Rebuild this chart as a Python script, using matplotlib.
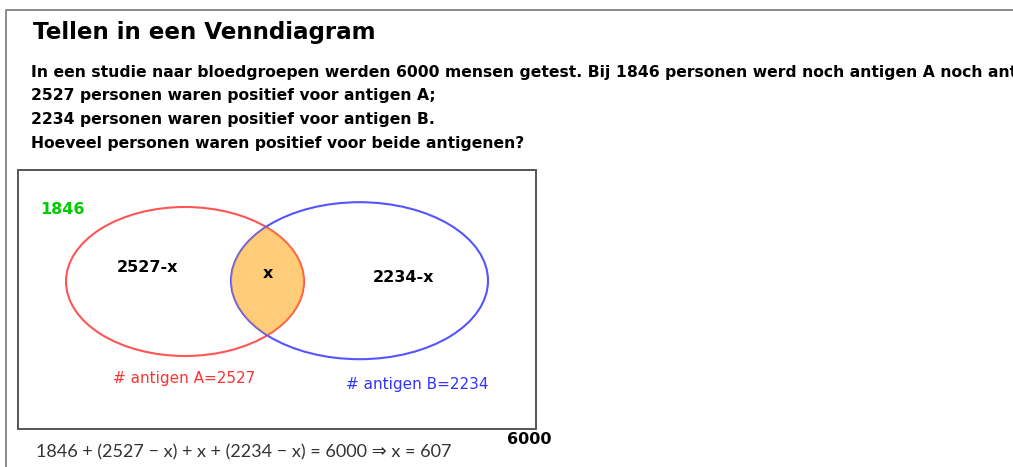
import matplotlib as mpl
mpl.use('agg')
import matplotlib.pyplot as plt
from matplotlib.patches import Ellipse, Rectangle

# data
total = 6000
neither = 1846
count_a = 2527
count_b = 2234
both = neither + count_a + count_b - total   # 607

title = "Tellen in een Venndiagram"
question = [
    f"In een studie naar bloedgroepen werden {total} mensen getest. Bij {neither} personen werd noch antigen A noch antigen B aangetroffen;",
    f"{count_a} personen waren positief voor antigen A;",
    f"{count_b} personen waren positief voor antigen B.",
    "Hoeveel personen waren positief voor beide antigenen?",
]
region_labels = [f"{count_a}-x", "x", f"{count_b}-x"]
set_labels = [f"# antigen A={count_a}", f"# antigen B={count_b}"]
equation = (f"{neither} + ({count_a} \u2212 x) + x + ({count_b} \u2212 x) = {total} "
            f"\u21d2 x = {both}")

W, H = 1013, 467
fig = plt.figure(figsize=(W / 100, H / 100), dpi=100)
ax = fig.add_axes([0, 0, 1, 1])
ax.set_xlim(0, W)
ax.set_ylim(H, 0)
ax.axis('off')

def px(s):
    # pixel font size -> points
    return s * 0.72

# page frame
ax.plot([6, 6, W], [H, 10, 10], color='#777777', lw=1.2)

# title + question
ax.text(33, 33, title, fontsize=px(23), fontweight='bold', va='center', ha='left')
for i, line in enumerate(question):
    ax.text(31, 72 + i * 23.7, line, fontsize=px(15.6), fontweight='bold',
            va='center', ha='left')

# universe box
ax.add_patch(Rectangle((18, 170), 518, 259, fill=False, ec='#555555', lw=1.4))

red = '#ff5555'
blue = '#5555ff'
ell_a = Ellipse((185, 281.5), 238, 149, fill=False, ec=red, lw=1.5)
ell_b = Ellipse((359.5, 280.7), 257, 157, fill=False, ec=blue, lw=1.5)
ax.add_patch(ell_a)
ax.add_patch(ell_b)

# intersection: ellipse A filled, clipped to ellipse B
lens = Ellipse((185, 281.5), 238, 149, fc='#ffa000', ec='none', alpha=0.52)
ax.add_patch(lens)
clip = Ellipse((359.5, 280.7), 257, 157, transform=ax.transData)
lens.set_clip_path(clip)

# labels
ax.text(40, 210, str(neither), color='#00cc00', fontsize=px(16), fontweight='bold',
        va='center', ha='left')
ax.text(148, 268, region_labels[0], fontsize=px(16), fontweight='bold', ha='center', va='center')
ax.text(268, 273, region_labels[1], fontsize=px(16), fontweight='bold', ha='center', va='center')
ax.text(403, 277, region_labels[2], fontsize=px(16), fontweight='bold', ha='center', va='center')
ax.text(113, 379, set_labels[0], color='#ff3333', fontsize=px(15.3), ha='left', va='center')
ax.text(346, 385, set_labels[1], color='#3333ff', fontsize=px(15.3), ha='left', va='center')
ax.text(552, 440, str(total), fontsize=px(16), fontweight='bold', ha='right', va='center')

ax.text(36, 452, equation, fontsize=px(18), color='#333333', ha='left', va='center',
        family=['Lato', 'DejaVu Sans'])

fig.savefig('out.png', dpi=100)
